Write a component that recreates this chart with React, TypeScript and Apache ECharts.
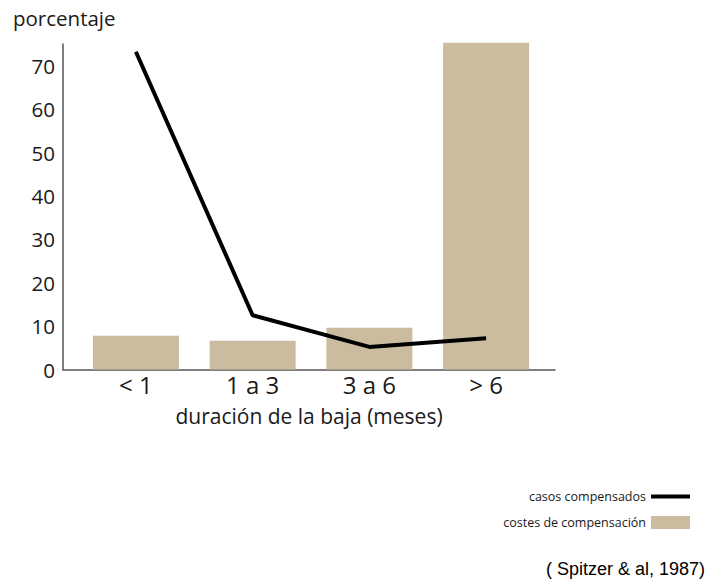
import React, { useEffect, useRef } from "react";
import * as echarts from "echarts";

const categories = ["< 1", "1 a 3", "3 a 6", "> 6"];
const costesCompensacion = [7.8, 6.6, 9.6, 75.3];
const casosCompensados = [73.2, 12.5, 5.2, 7.2];
const seriesNames = ["casos compensados", "costes de compensación"];
const yAxisName = "porcentaje";
const xAxisName = "duración de la baja (meses)";
const source = "( Spitzer & al, 1987)";

const FONT = "'Open Sans', 'Noto Sans', sans-serif";
const TEXT = "#1a1a1a";

export default function App() {
  const ref = useRef<HTMLDivElement>(null);
  useEffect(() => {
    if (!ref.current) return;
    const chart = echarts.init(ref.current, null, { renderer: "svg" });
    const top = 44;
    const height = 325.5;
    chart.setOption({
      animation: false,
      backgroundColor: "#ffffff",
      textStyle: { fontFamily: FONT },
      title: {
        text: yAxisName,
        left: 8,
        top: 2,
        textStyle: { fontFamily: FONT, fontSize: 20.5, fontWeight: "normal", color: TEXT },
      },
      grid: [
        { left: 63, width: 492, top, height },
        { left: 77.5, width: 467, top, height },
      ],
      xAxis: [
        {
          type: "value",
          gridIndex: 0,
          min: 0,
          max: 1,
          axisLine: { show: true, lineStyle: { color: "#555555", width: 1.5 } },
          axisTick: { show: false },
          axisLabel: { show: false },
          splitLine: { show: false },
          name: xAxisName,
          nameLocation: "middle",
          nameGap: 36,
          nameTextStyle: { fontFamily: FONT, fontSize: 21, color: TEXT },
        },
        {
          type: "category",
          gridIndex: 1,
          data: categories,
          axisLine: { show: false },
          axisTick: { show: false },
          axisLabel: { fontFamily: FONT, fontSize: 24, color: TEXT, margin: 3 },
        },
      ],
      yAxis: [
        {
          type: "value",
          gridIndex: 0,
          min: 0,
          max: 75,
          interval: 10,
          axisLine: { show: true, lineStyle: { color: "#555555", width: 1.5 } },
          axisTick: { show: false },
          splitLine: { show: false },
          axisLabel: {
            fontFamily: FONT,
            fontSize: 20.5,
            color: TEXT,
            margin: 8,
            showMaxLabel: false,
            formatter: (v: number) => (v % 10 === 0 ? String(v) : ""),
          },
        },
        {
          type: "value",
          gridIndex: 1,
          min: 0,
          max: 75,
          show: false,
        },
      ],
      legend: {
        orient: "vertical",
        right: 18,
        top: 490,
        padding: 0,
        align: "right",
        itemWidth: 39,
        itemHeight: 13,
        itemGap: 13,
        textStyle: { fontFamily: FONT, fontSize: 12.5, color: TEXT },
        data: [
          {
            name: seriesNames[0],
            itemStyle: { color: "transparent", borderWidth: 0, opacity: 0 },
            lineStyle: { width: 4, color: "#000000" },
          },
          { name: seriesNames[1], icon: "rect" },
        ],
      },
      graphic: [
        {
          type: "text",
          right: 5,
          top: 560,
          style: {
            text: source,
            font: "18px 'Liberation Sans', Arial, sans-serif",
            fill: "#000000",
          },
        },
      ],
      series: [
        {
          name: seriesNames[1],
          type: "bar",
          xAxisIndex: 1,
          yAxisIndex: 1,
          data: costesCompensacion,
          barWidth: 86,
          clip: false,
          itemStyle: { color: "#cbbc9f" },
        },
        {
          name: seriesNames[0],
          type: "line",
          xAxisIndex: 1,
          yAxisIndex: 1,
          data: casosCompensados,
          symbol: "none",
          lineStyle: { color: "#000000", width: 4 },
          itemStyle: { color: "#000000" },
          z: 5,
        },
      ],
    });
    return () => chart.dispose();
  }, []);
  return (
    <div
      ref={ref}
      style={{ position: "fixed", left: 0, top: 0, width: 710, height: 587, background: "#fff" }}
    />
  );
}
